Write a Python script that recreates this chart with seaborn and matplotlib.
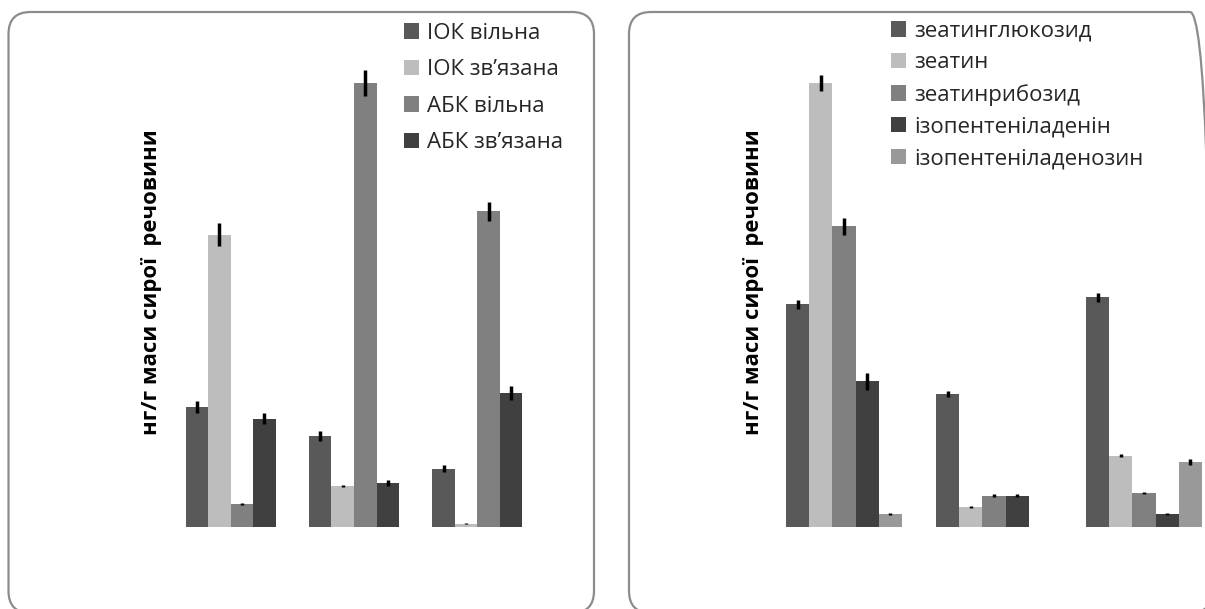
import numpy as np
import pandas as pd
import matplotlib
matplotlib.use("Agg")
import matplotlib.pyplot as plt
import seaborn as sns
from matplotlib.patches import FancyBboxPatch

# ---- data (нг/г маси сирої речовини) ----
groups = ["1", "2", "3"]

left_series = ["ІОК вільна", "ІОК зв’язана", "АБК вільна", "АБК зв’язана"]
left_values = [
    [10.3, 7.8, 5.0],    # ІОК вільна
    [25.1, 3.5, 0.3],    # ІОК зв’язана
    [2.0, 38.1, 27.1],   # АБК вільна
    [9.3, 3.8, 11.5],    # АБК зв’язана
]
left_errors = [
    [0.5, 0.4, 0.3],
    [1.0, 0.1, 0.05],
    [0.1, 1.1, 0.8],
    [0.5, 0.25, 0.6],
]
left_colors = ["#595959", "#bdbdbd", "#808080", "#404040"]

right_series = ["зеатинглюкозид", "зеатин", "зеатинрибозид",
                "ізопентеніладенін", "ізопентеніладенозин"]
right_values = [
    [19.1, 11.4, 19.7],  # зеатинглюкозид
    [38.1, 1.7, 6.1],    # зеатин
    [25.8, 2.7, 2.9],    # зеатинрибозид
    [12.5, 2.7, 1.1],    # ізопентеніладенін
    [1.1, 0.0, 5.6],     # ізопентеніладенозин
]
right_errors = [
    [0.35, 0.25, 0.35],
    [0.7, 0.07, 0.13],
    [0.7, 0.1, 0.1],
    [0.7, 0.15, 0.07],
    [0.1, 0.0, 0.27],
]
right_colors = ["#595959", "#bdbdbd", "#808080", "#404040", "#999999"]

ylabel = "нг/г маси сирої  речовини"

sns.set_theme(style="white")
plt.rcParams["font.family"] = ["Open Sans", "DejaVu Sans"]

W, H = 1205, 609
fig = plt.figure(figsize=(W / 100, H / 100), dpi=100)

# rounded frames behind the panels, drawn in pixel space
bg = fig.add_axes([0, 0, 1, 1], zorder=-1)
bg.set_xlim(0, W)
bg.set_ylim(0, H)
bg.axis("off")
r = 22
for x0, x1 in [(8.5, 594), (629, 1212)]:
    y0, y1 = -4, H - 12
    bg.add_patch(FancyBboxPatch((x0 + r, y0 + r), x1 - x0 - 2 * r, y1 - y0 - 2 * r,
                                boxstyle=f"round,pad={r}", fill=False,
                                edgecolor="#8c8c8c", linewidth=1.6))


def panel(rect, series, values, errors, colors, width, legend_xy, fs, spacing, ylab_x):
    df = pd.DataFrame({
        "group": np.repeat([groups], len(series), axis=0).ravel(),
        "series": np.repeat(series, len(groups)),
        "value": np.ravel(values),
    })
    ax = fig.add_axes(rect)
    sns.barplot(data=df, x="group", y="value", hue="series", hue_order=series,
                palette=colors, width=width, errorbar=None, saturation=1,
                linewidth=0, ax=ax)
    for cont, err in zip(ax.containers, errors):
        xs = [b.get_x() + b.get_width() / 2 for b in cont]
        ys = [b.get_height() for b in cont]
        ax.errorbar(xs, ys, yerr=err, fmt="none", ecolor="black",
                    elinewidth=2.5, capsize=0)
    ax.set_xlim(-0.5, 2.5)
    ax.set_ylim(0, 41.8)
    ax.axis("off")
    sns.move_legend(ax, "upper left", bbox_to_anchor=(legend_xy[0] / W, 1 - legend_xy[1] / H),
                    bbox_transform=fig.transFigure, frameon=False, title=None,
                    fontsize=fs, handlelength=0.68, handleheight=0.68,
                    handletextpad=0.36, labelspacing=spacing, borderaxespad=0,
                    borderpad=0)
    fig.text(ylab_x / W, 1 - 282 / H, ylabel, rotation=90, ha="center", va="center",
             fontsize=15.9, fontweight="bold", color="black")
    return ax


panel([169 / W, 82 / H, 370 / W, 487 / H], left_series, left_values, left_errors,
      left_colors, 0.73, (404, 22.7), 16, 0.7, 151)
panel([769 / W, 82 / H, 450 / W, 487 / H], right_series, right_values, right_errors,
      right_colors, 0.77, (891, 20.7), 16, 0.48, 753)

fig.savefig("out.png", dpi=100)
